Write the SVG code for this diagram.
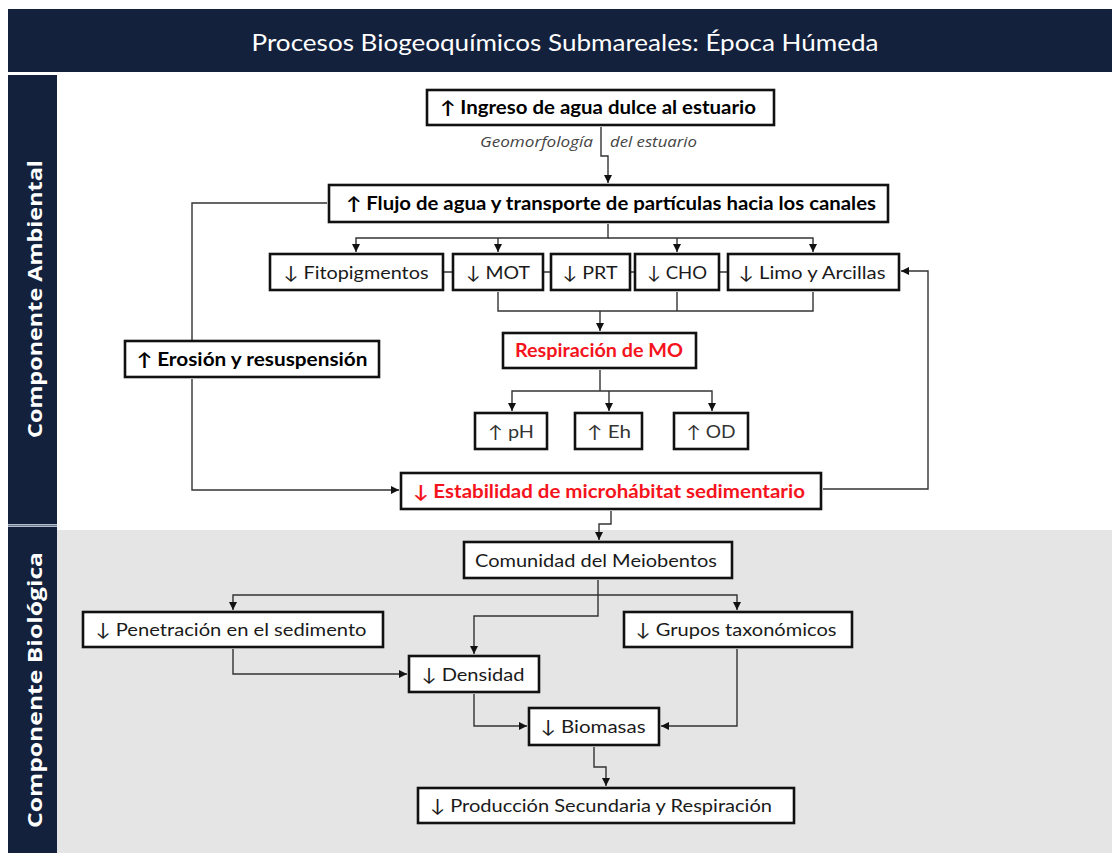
<svg xmlns="http://www.w3.org/2000/svg" width="1112" height="855" viewBox="0 0 1112 855">
<style>
.box{fill:#fff;stroke:#111;stroke-width:2.6}
.t{font-family:Lato,"DejaVu Sans",sans-serif;font-size:18px;fill:#1a1a1a;text-anchor:middle}
.b{font-weight:bold;fill:#000}
.r{font-weight:bold;fill:#f5141c}
.s{font-size:17px;fill:#333}
.lbl{font-family:"Open Sans","DejaVu Sans",sans-serif;font-style:italic;font-size:14px;fill:#444}
.c{fill:none;stroke:#333;stroke-width:1.4}
.ca{fill:none;stroke:#333;stroke-width:1.4;marker-end:url(#ah)}
.side{font-family:"Open Sans","DejaVu Sans",sans-serif;font-weight:bold;font-size:20px;fill:#fff;text-anchor:middle}
</style>
<defs>
<marker id="ah" viewBox="0 0 10 10" refX="10" refY="5" markerWidth="8" markerHeight="8" markerUnits="userSpaceOnUse" orient="auto">
<path d="M0,0 L10,5 L0,10 z" fill="#111"/>
</marker>
</defs>
<rect x="0" y="0" width="1112" height="855" fill="#fff"/>
<g id="background">
<rect x="8" y="9" width="1104" height="63" fill="#13213d"/>
<rect x="57" y="530" width="1055" height="323" fill="#e5e5e5"/>
<rect x="8" y="75" width="49" height="449" fill="#13213d"/>
<rect x="8" y="527" width="49" height="326" fill="#13213d"/>
<line x1="8" y1="525.5" x2="57" y2="525.5" stroke="#6b7892" stroke-width="2"/>
<text x="565" y="51" font-family="Lato,'DejaVu Sans',sans-serif" font-size="23" fill="#fff" text-anchor="middle" textLength="627" lengthAdjust="spacingAndGlyphs">Procesos Biogeoquímicos Submareales: Época Húmeda</text>
<text class="side" transform="translate(42,299) rotate(-90)" textLength="278" lengthAdjust="spacingAndGlyphs">Componente Ambiental</text>
<text class="side" transform="translate(42,690) rotate(-90)" textLength="276" lengthAdjust="spacingAndGlyphs">Componente Biológica</text>
</g>
<g id="connectors">
<path class="ca" d="M601,127 V156 H608 V183"/>
<path class="ca" d="M608,224 V238 H356 V252"/>
<path class="ca" d="M498,238 V252"/>
<path class="ca" d="M608,238 H813 V252"/>
<path class="ca" d="M677,238 V252"/>
<path class="c" d="M444,272 H452 M544,272 H550 M631,272 H634 M720,272 H727"/>
<path class="c" d="M498,292 V311 H813 V292 M677,292 V311"/>
<path class="ca" d="M600,311 V331"/>
<path class="c" d="M600,370 V391"/>
<path class="ca" d="M600,391 H512 V411"/>
<path class="ca" d="M600,391 H712 V411"/>
<path class="ca" d="M609,391 V411"/>
<path class="c" d="M327,203 H192 V340"/>
<path class="ca" d="M192,379 V490 H399"/>
<path class="ca" d="M823,489 H928 V271 H901"/>
<path class="ca" d="M611,511 V524 H599 V540"/>
<path class="c" d="M598,580 V595"/>
<path class="ca" d="M598,595 H233 V610"/>
<path class="ca" d="M598,595 H737 V610"/>
<path class="ca" d="M598,595 V616 H474 V654"/>
<path class="ca" d="M233,649 V674 H407"/>
<path class="ca" d="M474,694 V726 H527"/>
<path class="ca" d="M737,649 V726 H661"/>
<path class="ca" d="M594,747 V767 H606 V786"/>
<text class="lbl" x="593" y="147" text-anchor="end" textLength="113" lengthAdjust="spacingAndGlyphs">Geomorfología</text>
<text class="lbl" x="610" y="147" textLength="87" lengthAdjust="spacingAndGlyphs">del estuario</text>
</g>
<g id="n-ingreso"><rect class="box" x="427" y="90" width="347" height="35"/><text class="t b" x="598" y="114" textLength="316" lengthAdjust="spacingAndGlyphs">↑ Ingreso de agua dulce al estuario</text></g>
<g id="n-flujo"><rect class="box" x="329" y="185" width="559" height="37"/><text class="t b" x="611" y="210" textLength="530" lengthAdjust="spacingAndGlyphs">↑ Flujo de agua y transporte de partículas hacia los canales</text></g>
<g id="n-fito"><rect class="box" x="270" y="254" width="173" height="36"/><text class="t" x="356" y="279" textLength="145" lengthAdjust="spacingAndGlyphs">↓ Fitopigmentos</text></g>
<g id="n-mot"><rect class="box" x="453" y="254" width="90" height="36"/><text class="t" x="498" y="279" textLength="64" lengthAdjust="spacingAndGlyphs">↓ MOT</text></g>
<g id="n-prt"><rect class="box" x="551" y="254" width="79" height="36"/><text class="t" x="590" y="279" textLength="55" lengthAdjust="spacingAndGlyphs">↓ PRT</text></g>
<g id="n-cho"><rect class="box" x="635" y="254" width="84" height="36"/><text class="t" x="677" y="279" textLength="60" lengthAdjust="spacingAndGlyphs">↓ CHO</text></g>
<g id="n-limo"><rect class="box" x="728" y="254" width="171" height="36"/><text class="t" x="812" y="279" textLength="147" lengthAdjust="spacingAndGlyphs">↓ Limo y Arcillas</text></g>
<g id="n-erosion"><rect class="box" x="125" y="341" width="254" height="36"/><text class="t b" x="252" y="366" textLength="231" lengthAdjust="spacingAndGlyphs">↑ Erosión y resuspensión</text></g>
<g id="n-resp"><rect class="box" x="503" y="333" width="193" height="35"/><text class="t r" x="599" y="357" textLength="168" lengthAdjust="spacingAndGlyphs">Respiración de MO</text></g>
<g id="n-ph"><rect class="box" x="475" y="413" width="72" height="36"/><text class="t s" x="511" y="438" textLength="46" lengthAdjust="spacingAndGlyphs">↑ pH</text></g>
<g id="n-eh"><rect class="box" x="575" y="413" width="67" height="36"/><text class="t s" x="609" y="438" textLength="44" lengthAdjust="spacingAndGlyphs">↑ Eh</text></g>
<g id="n-od"><rect class="box" x="674" y="413" width="74" height="36"/><text class="t s" x="711" y="438" textLength="49" lengthAdjust="spacingAndGlyphs">↑ OD</text></g>
<g id="n-estab"><rect class="box" x="401" y="473" width="420" height="36"/><text class="t r" x="609" y="498" textLength="392" lengthAdjust="spacingAndGlyphs">↓ Estabilidad de microhábitat sedimentario</text></g>
<g id="n-comunidad"><rect class="box" x="464" y="542" width="268" height="36"/><text class="t" x="596" y="567" textLength="242" lengthAdjust="spacingAndGlyphs">Comunidad del Meiobentos</text></g>
<g id="n-penet"><rect class="box" x="83" y="612" width="300" height="35"/><text class="t" x="231" y="636" textLength="271" lengthAdjust="spacingAndGlyphs">↓ Penetración en el sedimento</text></g>
<g id="n-grupos"><rect class="box" x="624" y="612" width="228" height="35"/><text class="t" x="736" y="636" textLength="201" lengthAdjust="spacingAndGlyphs">↓ Grupos taxonómicos</text></g>
<g id="n-densidad"><rect class="box" x="409" y="656" width="130" height="36"/><text class="t" x="473" y="681" textLength="103" lengthAdjust="spacingAndGlyphs">↓ Densidad</text></g>
<g id="n-biomasas"><rect class="box" x="529" y="708" width="130" height="37"/><text class="t" x="593" y="733" textLength="105" lengthAdjust="spacingAndGlyphs">↓ Biomasas</text></g>
<g id="n-produccion"><rect class="box" x="418" y="788" width="376" height="35"/><text class="t" x="601" y="812" textLength="342" lengthAdjust="spacingAndGlyphs">↓ Producción Secundaria y Respiración</text></g>
</svg>
